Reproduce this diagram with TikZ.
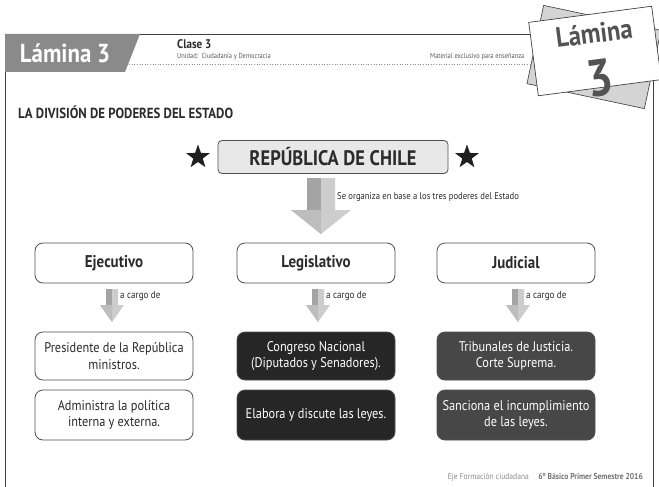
\documentclass[tikz,border=0pt]{standalone}
\usepackage{fontspec}
\setmainfont[FakeStretch=0.88]{PT Sans}
\usetikzlibrary{shapes.geometric}
\definecolor{hdr}{HTML}{8A8A8A}
\definecolor{edge}{HTML}{505050}
\definecolor{darkbox}{HTML}{262626}
\definecolor{midbox}{HTML}{474747}
\definecolor{arrdark}{HTML}{A4A4A4}
\definecolor{arrlight}{HTML}{CDCDCD}
\definecolor{arrmid}{HTML}{BDBDBD}
\definecolor{txt}{HTML}{2B2B2B}
\newcommand\blockarrow[6]{% x, ytop, yhead, ytip, half shaft, half head
  \fill[arrlight] (#1-#5,#2) -- (#1+#5,#2) -- (#1+#5,#3) -- (#1+#6,#3) -- (#1,#4) -- (#1-#6,#3) -- (#1-#5,#3) -- cycle;
  \fill[arrdark] (#1-#5,#2) -- (#1,#2) -- (#1,#3) -- (#1-#5,#3) -- cycle;
  \fill[arrmid] (#1-#6,#3) -- (#1,#3) -- (#1,#4) -- cycle;
}
\tikzset{
  power/.style={draw=edge, line width=0.8pt, fill=white, rounded corners=8pt, minimum width=158pt, minimum height=40pt, inner sep=0pt, font=\bfseries\fontsize{17}{19}\selectfont, text=txt},
  infobox/.style={draw=edge, line width=0.8pt, rounded corners=8pt, minimum width=158pt, inner sep=0pt, align=center, font=\fontsize{14}{16.5}\selectfont},
  smalllbl/.style={anchor=west, font=\fontsize{10.3}{11}\selectfont, text=txt, inner sep=1pt},
  starnode/.style={star, star points=5, star point ratio=2.5, fill=black!88, minimum size=25pt, inner sep=0pt}
}
\begin{document}
\begin{tikzpicture}[x=1pt,y=-1pt]
\useasboundingbox (0,0) rectangle (659,487);
\fill[white] (0,0) rectangle (659,487);
% frame
\draw[line width=0.9pt, black!75] (5,487) -- (5,34) -- (653,34) -- (653,487);
% header
\fill[hdr] (5,34) -- (140,34) -- (125,72) -- (5,72) -- cycle;
\node[text=white, font=\bfseries\fontsize{26}{26}\selectfont] (lam) at (65,53) {Lámina 3};
\node[anchor=base west, font=\bfseries\fontsize{12.5}{14}\selectfont, inner sep=0pt, text=txt] (clase) at (177,49) {Clase 3};
\node[anchor=base west, font=\fontsize{7.3}{8}\selectfont, text=black!65, inner sep=0pt] (unidad) at (177,59) {Unidad:\ \ Ciudadanía y Democracia};
\node[anchor=base west, font=\fontsize{7.3}{8}\selectfont, text=black!65, inner sep=0pt] (mat) at (430,59) {Material exclusivo para enseñanza};
\draw[dotted, black!45, line width=0.6pt] (124,64) -- (548,64);
% card
\node[draw=black!70, line width=0.7pt, fill=black!17, minimum width=120pt, minimum height=80pt, rotate=-12] (cardback) at (594,57) {};
\node[draw=black!75, line width=0.7pt, fill=white, minimum width=124pt, minimum height=74pt, rotate=7.5] (card) at (595,51) {};
\node[rotate=7.5, inner sep=0pt, text=black!68, font=\bfseries\fontsize{28}{28}\selectfont] (cardt) at (594,33) {Lámina};
\node[rotate=7.5, inner sep=0pt, text=black!68, font=\bfseries\fontsize{52}{52}\selectfont] (cardn) at (600,78) {3};
% title
\node[anchor=base west, inner sep=0pt, font=\bfseries\fontsize{14.6}{16}\selectfont, text=txt] (title) at (18,118) {LA DIVISIÓN DE PODERES DEL ESTADO};
% republica
\node[draw=edge, line width=0.8pt, fill=black!9, rounded corners=4pt, minimum width=230pt, minimum height=33pt, inner sep=0pt, font=\bfseries\fontsize{21}{21}\selectfont, text=txt] (rep) at (333,157) {REPÚBLICA DE CHILE};
\node[starnode] (s1) at (198,157) {};
\node[starnode] (s2) at (467,157) {};
% big arrow
\blockarrow{321}{178}{210}{234}{14}{30}
\node[smalllbl, font=\fontsize{9.8}{10}\selectfont] (org) at (336,197) {Se organiza en base a los tres poderes del Estado};
% powers
\node[power] (eje) at (114,263) {Ejecutivo};
\node[power] (leg) at (316,263) {Legislativo};
\node[power] (jud) at (516,263) {Judicial};
% small arrows
\blockarrow{112}{289}{305}{322}{6}{12}
\node[smalllbl] (c1) at (119,296) {a cargo de};
\blockarrow{318}{289}{305}{322}{6}{12}
\node[smalllbl] (c2) at (325,296) {a cargo de};
\blockarrow{518}{289}{305}{322}{6}{12}
\node[smalllbl] (c3) at (525,296) {a cargo de};
% info boxes
\node[infobox, fill=white, text=txt, minimum height=48pt] (e1) at (114,356) {Presidente de la República\\ministros.};
\node[infobox, fill=darkbox, text=white, minimum height=48pt] (l1) at (316,356) {Congreso Nacional\\(Diputados y Senadores).};
\node[infobox, fill=midbox, text=white, minimum height=48pt] (j1) at (516,356) {Tribunales de Justicia.\\Corte Suprema.};
\node[infobox, fill=white, text=txt, minimum height=50pt] (e2) at (114,415) {Administra la política\\interna y externa.};
\node[infobox, fill=darkbox, text=white, minimum height=50pt] (l2) at (316,415) {Elabora y discute las leyes.};
\node[infobox, fill=midbox, text=white, minimum height=50pt] (j2) at (516,415) {Sanciona el incumplimiento\\de las leyes.};
% footer
\node[anchor=base east, inner sep=0pt, font=\bfseries\fontsize{8.6}{9}\selectfont, text=black!55] (f2) at (643,479) {6º Básico Primer Semestre 2016};
\node[anchor=base east, inner sep=0pt, font=\fontsize{8.6}{9}\selectfont, text=black!45] (f1) at ([xshift=-9pt]f2.base west) {Eje Formación ciudadana};
\end{tikzpicture}
\end{document}
